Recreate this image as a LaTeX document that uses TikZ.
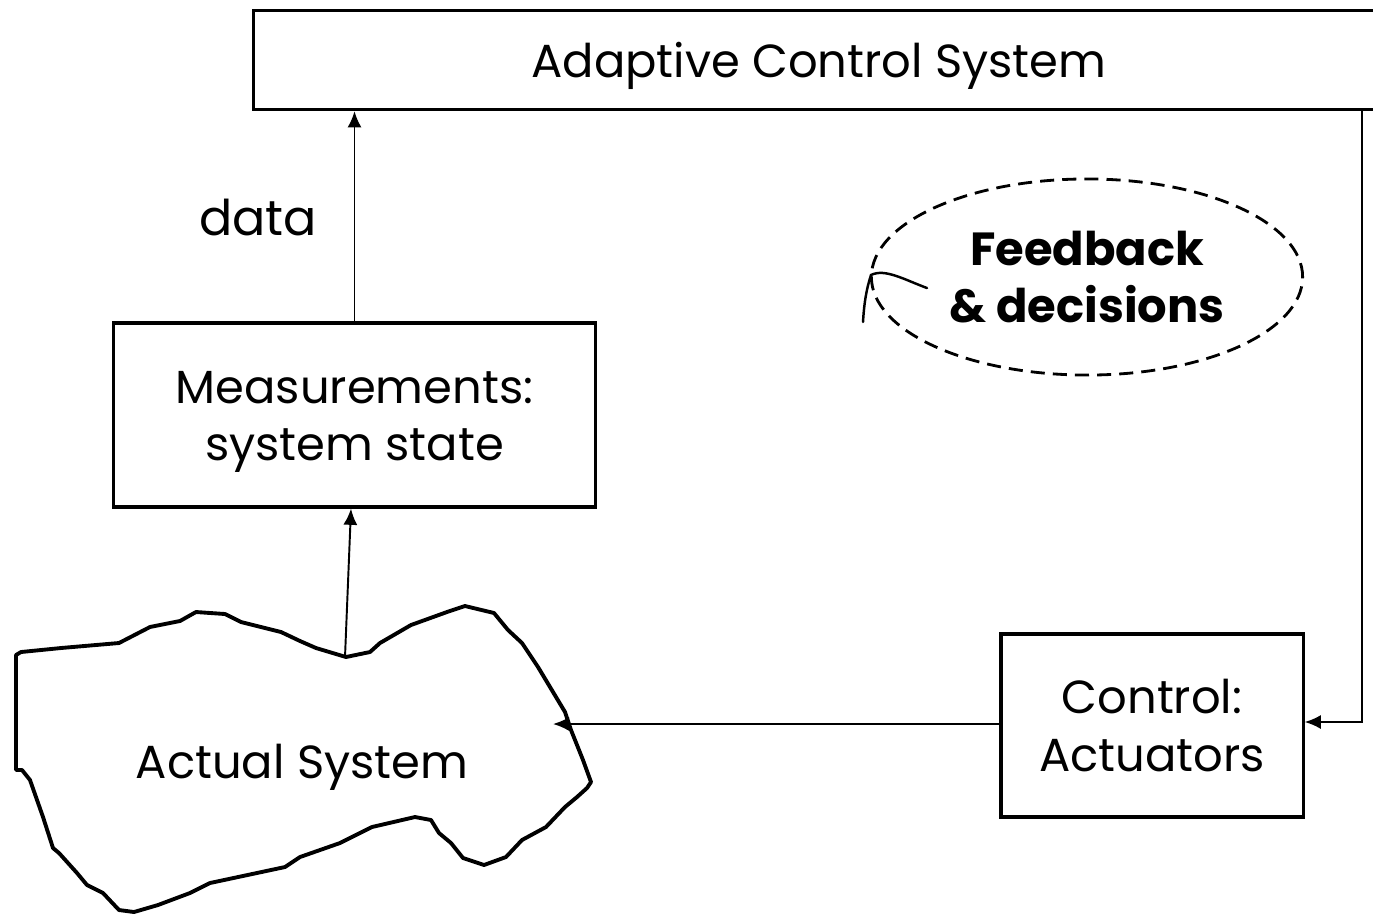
\documentclass[tikz,border=0pt]{standalone}
\usepackage{fontspec}
\setmainfont{Poppins}
\usetikzlibrary{arrows.meta, shapes.geometric}

% sink the glyphs a little without changing the line box
\newcommand{\sinktext}[2][2pt]{\raisebox{-#1}[\height][\depth]{#2}}

\tikzset{
  box/.style={draw, line width=0.9pt, align=center, font=\fontsize{13.2}{16.4}\selectfont},
  flow/.style={-{Latex[length=4.6pt,width=4pt]}, line width=0.55pt},
  lbl/.style={font=\fontsize{13.2}{16.2}\selectfont},
}

\begin{document}
\begin{tikzpicture}[x=0.01cm,y=-0.01cm]
\useasboundingbox (0,0) rectangle (1373,914);
\clip (0,0) rectangle (1373,914);

% boxes
\node[box, minimum width=11.3cm, minimum height=0.99cm, anchor=north west] (acs) at (252,9) {\sinktext[1.5pt]{Adaptive Control System}};
\node[box, minimum width=4.81cm, minimum height=1.84cm] (meas) at (354.5,415) {\sinktext{Measurements:}\\\sinktext{system state}};
\node[box, minimum width=3.02cm, minimum height=1.83cm] (ctrl) at (1152,725.5) {Control:\\Actuators};

% the real system, drawn free hand
\draw[line width=1.1pt, line join=round]
  (16,655) -- (21,652) -- (61,648) -- (119,643) -- (150,627) -- (180,621) -- (196,612)
  -- (225,614) -- (241,622) -- (281,632) -- (300,641) -- (316,648) -- (346,657)
  -- (370,652) -- (380,643) -- (411,625) -- (447,612) -- (465,606) -- (494,613)
  -- (508,630) -- (522,643) -- (538,667) -- (550,687) -- (565,712) -- (571,730)
  -- (583,760) -- (591,782) -- (587,788) -- (577,797) -- (565,807) -- (546,827)
  -- (522,840) -- (506,857) -- (484,865) -- (463,858) -- (451,843) -- (439,833)
  -- (431,820) -- (415,817) -- (372,827) -- (340,843) -- (300,857) -- (285,867)
  -- (210,883) -- (190,893) -- (158,905) -- (134,912) -- (119,910) -- (103,893)
  -- (87,885) -- (77,873) -- (59,853) -- (53,848) -- (43,817) -- (30,780)
  -- (22,770) -- (16,770) -- cycle;
\node[lbl] (actual) at (302,762) {\sinktext[1.5pt]{Actual System}};

% feedback loop
\node[draw, ellipse, inner sep=0pt, line width=0.8pt, dash pattern=on 4pt off 2.3pt,
  minimum width=4.31cm, minimum height=1.96cm, align=center,
  font=\fontsize{13.2}{16.2}\selectfont\bfseries] (fb) at (1087,277) {Feedback\\\& decisions};
\draw[line width=0.7pt, line cap=round]
  (927,288) .. controls (905,280) and (885,268) .. (871,275)
  .. controls (866,290) and (864,305) .. (863,322);

% connectors
\coordinate (turn) at (1362,722);
\coordinate (blobin) at (553,724);
\coordinate (blobtop) at (345,657);
\draw[flow] (meas.north) -- (meas.north |- acs.south);
\node[font=\fontsize{14}{17}\selectfont] (data) at (258,217) {data};
\draw[flow] (acs.south -| turn) -- (turn) -- (ctrl.east |- turn);
\draw[flow] (ctrl.west |- blobin) -- (blobin);
\draw[flow] (blobtop) -- ([xshift=-0.035cm]meas.south);
\end{tikzpicture}
\end{document}
